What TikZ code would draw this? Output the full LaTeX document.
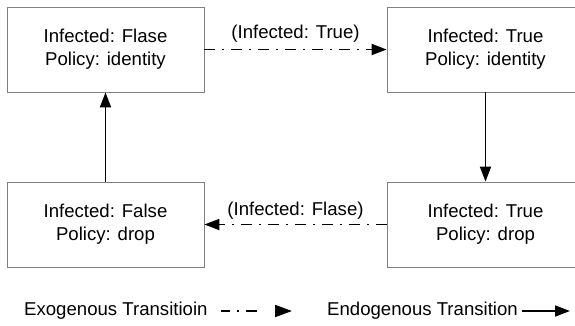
\documentclass[tikz,border=0pt]{standalone}
\usepackage{fontspec}
\setmainfont{Liberation Sans}
\usetikzlibrary{positioning,arrows.meta}

\tikzset{
  state/.style={draw=gray,line width=0.8pt,minimum width=197pt,minimum height=85pt,
    align=center,font=\fontsize{18.6}{23}\selectfont},
  exo/.style={line width=1.8pt,dash pattern=on 11pt off 7pt on 2pt off 7pt,
    -{Triangle[length=15pt,width=11pt]}},
  endo/.style={line width=1.8pt,-{Triangle[length=15pt,width=11pt]}},
  lbl/.style={font=\fontsize{18.6}{23}\selectfont,inner sep=2pt}
}

\begin{document}
\begin{tikzpicture}[x=1pt,y=-1pt]
    \clip (0,0) rectangle (575,325);

    % states
    \node[state] (fid) at (105.5,49.5) {Infected: Flase\\Policy: identity};
    \node[state] (tid) at (485.5,49.5) {Infected: True\\Policy: identity};
    \node[state] (fdrop) at (105.5,224.5) {Infected: False\\Policy: drop};
    \node[state] (tdrop) at (485.5,224.5) {Infected: True\\Policy: drop};

    % transitions
    \draw[exo] (fid) -- (tid) node[lbl,midway,above=4pt] {(Infected: True)};
    \draw[endo] (tid) -- (tdrop);
    \draw[exo] (tdrop) -- (fdrop) node[lbl,midway,above=2pt] {(Infected: Flase)};
    \draw[endo] (fdrop) -- (fid);

    % legend
    \node[lbl,anchor=west,inner sep=0pt] (exolbl) at (24,311) {Exogenous Transitioin};
    \coordinate (exoa) at (221,311);
    \coordinate (exob) at (292,311);
    \draw[exo,dash pattern=on 9pt off 7pt on 1.5pt off 7pt on 11pt off 40pt,
      -{Triangle[length=17pt,width=12pt]}] (exoa) -- (exob);
    \node[lbl,anchor=west,inner sep=0pt] (endolbl) at (327,311) {Endogenous Transition};
    \coordinate (endoa) at (522,311);
    \coordinate (endob) at (570,311);
    \draw[endo] (endoa) -- (endob);
\end{tikzpicture}
\end{document}
